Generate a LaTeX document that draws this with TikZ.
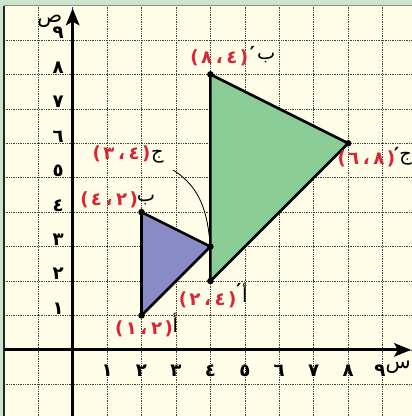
\documentclass[tikz,border=0pt]{standalone}
\usepackage{fontspec}
\newfontfamily\arabicfont[Script=Arabic]{DejaVu Sans}
\newfontfamily\plainfont{DejaVu Sans}
\usetikzlibrary{arrows.meta}
\definecolor{paper}{RGB}{255,252,232}
\definecolor{strip}{RGB}{204,228,204}
\definecolor{lblred}{RGB}{218,38,52}
\definecolor{trione}{RGB}{138,138,198}
\definecolor{tritwo}{RGB}{138,205,150}
% coordinates written as they are printed: (y , x) from left to right
\newcommand{\crd}[2]{{\plainfont(}\kern2pt#1\kern3pt،\kern3pt#2\kern2pt{\plainfont)}}

\begin{document}
\begin{tikzpicture}[
  gridln/.style={black!75,densely dotted,line width=0.45pt},
  axis/.style={line width=2.6pt,-{Stealth[length=14pt,width=11pt,inset=3pt]}},
  tri/.style={line width=2.2pt,line join=round},
  axnum/.style={font=\arabicfont\bfseries\fontsize{15}{17}\selectfont,anchor=base,inner sep=0pt},
  axlet/.style={font=\arabicfont\fontsize{17}{19}\selectfont,inner sep=0pt},
  ptlbl/.style={font=\arabicfont\bfseries\fontsize{15}{17}\selectfont,text=lblred,inner sep=0pt},
  ptlet/.style={font=\arabicfont\fontsize{16}{18}\selectfont,inner sep=0pt},
  ptprm/.style={font=\plainfont\bfseries\fontsize{16}{18}\selectfont,inner sep=0pt}]
\useasboundingbox (-2.11,-1.92) rectangle (9.85,10.16);
\fill[strip] (-2.11,-1.92) rectangle (9.85,10.16);
\fill[paper] (-2,-1.92) rectangle (9.85,10);
\draw[gridln] (-2,-1.92) grid (9.85,10);
\draw[black!85,line width=1.2pt] (-2,-1.92) -- (-2,10);
\draw[black!45,line width=0.6pt] (-2,10) -- (9.85,10);

% axes
\draw[axis] (-2,0) -- (9.83,0);
\draw[axis] (0,-1.92) -- (0,9.92);
\node[axlet] (xname) at (9.45,-0.5) {س};
\node[axlet] (yname) at (-0.66,9.55) {ص};

\node[axnum] (x1) at (1,-0.78) {١};
\node[axnum] (x2) at (2,-0.78) {٢};
\node[axnum] (x3) at (3,-0.78) {٣};
\node[axnum] (x4) at (4,-0.78) {٤};
\node[axnum] (x5) at (5,-0.78) {٥};
\node[axnum] (x6) at (6,-0.78) {٦};
\node[axnum] (x7) at (7,-0.78) {٧};
\node[axnum] (x8) at (8,-0.78) {٨};
\node[axnum] (x9) at (8.92,-0.78) {٩};

\node[axnum] (y1) at (-0.42,1.03) {١};
\node[axnum] (y2) at (-0.42,2.03) {٢};
\node[axnum] (y3) at (-0.42,3.03) {٣};
\node[axnum] (y4) at (-0.42,4.03) {٤};
\node[axnum] (y5) at (-0.42,5.03) {٥};
\node[axnum] (y6) at (-0.42,6.03) {٦};
\node[axnum] (y7) at (-0.42,7.03) {٧};
\node[axnum] (y8) at (-0.42,8.03) {٨};
\node[axnum] (y9) at (-0.42,9.03) {٩};

% triangle and its image
\coordinate (A) at (2,1);
\coordinate (B) at (2,4);
\coordinate (C) at (4,3);
\coordinate (Ap) at (4,2);
\coordinate (Bp) at (4,8);
\coordinate (Cp) at (8,6);
\draw[tri,fill=trione] (A) -- (B) -- (C) -- cycle;
\draw[tri,fill=tritwo] (Ap) -- (Bp) -- (Cp) -- cycle;
\fill (A) circle (0.095);
\fill (B) circle (0.095);
\fill (C) circle (0.095);
\fill (Ap) circle (0.095);
\fill (Bp) circle (0.095);
\fill (Cp) circle (0.095);

% labels
\node[ptlbl] (cA) at (2.07,0.62) {\crd{١}{٢}};
\node[ptlet] (tA) at (2.98,0.78) {أ};
\node[ptlbl] (cB) at (1.06,4.37) {\crd{٤}{٢}};
\node[ptlet] (tB) at (2.13,4.35) {ب};
\node[ptlbl] (cC) at (1.42,5.69) {\crd{٣}{٤}};
\node[ptlet] (tC) at (2.46,5.6) {ج};
\node[ptlbl] (cAp) at (3.92,1.45) {\crd{٢}{٤}};
\node[ptprm] (pAp) at (4.83,1.72) {′};
\node[ptlet] (tAp) at (5.0,1.65) {أ};
\node[ptlbl] (cBp) at (4.26,8.49) {\crd{٨}{٤}};
\node[ptprm] (pBp) at (5.22,8.6) {′};
\node[ptlet] (tBp) at (5.62,8.47) {ب};
\node[ptlbl] (cCp) at (8.53,5.55) {\crd{٦}{٨}};
\node[ptprm] (pCp) at (9.41,5.68) {′};
\node[ptlet] (tCp) at (9.67,5.55) {ج};

\coordinate (jtail) at (2.92,5.22);
\draw[line width=0.7pt] (jtail) to[out=-32,in=95] (C);
\end{tikzpicture}
\end{document}
